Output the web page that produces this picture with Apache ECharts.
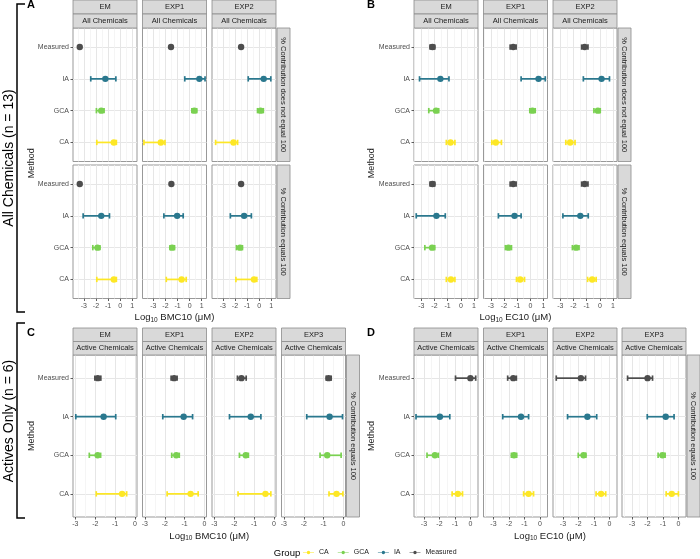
<!DOCTYPE html>
<html>
<head>
<meta charset="utf-8">
<script src="https://cdn.jsdelivr.net/npm/echarts@6/dist/echarts.min.js"></script>
<style>
  html, body { margin: 0; padding: 0; background: #fff; }
  #chart-wrapper { width: 700px; height: 559px; }
</style>
</head>
<body>
<div id="chart-wrapper"></div>
<script>
// methods, bottom to top
const methods = ["CA", "GCA", "IA", "Measured"];
const groupColors = ["#FDE725", "#7AD151", "#2A788E", "#4D4D4D"];
const facetNames = ["EM", "EXP1", "EXP2", "EXP3"];

// each facet: [lo, estimate, hi] for CA, GCA, IA, Measured
// A: BMC10, all chemicals, % contribution does not equal 100
const bmcAllNot = [
  [[-1.93, -0.52, -0.31], [-1.96, -1.56, -1.33], [-2.43, -1.22, -0.35], [-3.34, -3.34, -3.34]],
  [[-3.78, -2.38, -2.04], [0.19, 0.39, 0.59], [-0.4, 0.81, 1.28], [-1.54, -1.54, -1.54]],
  [[-3.6, -2.12, -1.78], [-0.13, 0.12, 0.35], [-0.9, 0.38, 0.97], [-1.49, -1.49, -1.49]],
];
// A: BMC10, all chemicals, % contribution equals 100
const bmcAllEq = [
  [[-1.93, -0.52, -0.31], [-2.26, -1.87, -1.67], [-3.06, -1.56, -0.88], [-3.34, -3.34, -3.34]],
  [[-1.93, -0.66, -0.28], [-1.62, -1.45, -1.25], [-2.13, -1.03, -0.53], [-1.51, -1.51, -1.51]],
  [[-1.92, -0.42, -0.19], [-1.87, -1.58, -1.38], [-2.38, -1.24, -0.64], [-1.49, -1.49, -1.49]],
];
// B: EC10, all chemicals
const ecAllNot = [
  [[-1.1, -0.78, -0.45], [-2.43, -1.88, -1.68], [-3.13, -1.55, -0.9], [-2.33, -2.15, -1.98]],
  [[-2.92, -2.62, -2.19], [-0.04, 0.16, 0.37], [-0.7, 0.62, 1.13], [-1.53, -1.3, -1.08]],
  [[-2.58, -2.25, -1.88], [-0.45, -0.15, 0.03], [-1.25, 0.13, 0.73], [-1.38, -1.15, -0.9]],
];
const ecAllEq = [
  [[-1.1, -0.75, -0.45], [-2.73, -2.18, -1.98], [-3.38, -1.85, -1.18], [-2.33, -2.15, -1.98]],
  [[-1.05, -0.77, -0.44], [-1.89, -1.66, -1.43], [-2.42, -1.2, -0.7], [-1.53, -1.3, -1.08]],
  [[-0.93, -0.58, -0.28], [-2.08, -1.8, -1.58], [-2.8, -1.48, -0.88], [-1.38, -1.15, -0.9]],
];
// C: BMC10, active chemicals
const bmcActive = [
  [[-1.95, -0.65, -0.42], [-2.3, -1.88, -1.73], [-2.98, -1.58, -0.97], [-2.02, -1.87, -1.72]],
  [[-1.88, -0.7, -0.32], [-1.65, -1.42, -1.27], [-2.1, -1.05, -0.6], [-1.68, -1.53, -1.38]],
  [[-1.81, -0.43, -0.16], [-1.74, -1.42, -1.29], [-2.24, -1.17, -0.66], [-1.84, -1.64, -1.4]],
  [[-0.73, -0.35, -0.03], [-1.18, -0.82, -0.12], [-1.85, -0.7, -0.05], [-0.87, -0.75, -0.62]],
];
// D: EC10, active chemicals
const ecActive = [
  [[-1.18, -0.81, -0.51], [-2.8, -2.29, -2.07], [-3.51, -1.97, -1.33], [-0.96, 0, 0.34]],
  [[-1.05, -0.73, -0.41], [-1.84, -1.67, -1.5], [-2.4, -1.22, -0.73], [-2.08, -1.72, -1.52]],
  [[-0.86, -0.54, -0.24], [-2.01, -1.67, -1.52], [-2.7, -1.42, -0.82], [-3.43, -1.84, -1.54]],
  [[-0.79, -0.43, 0.0], [-1.31, -1.03, -0.86], [-2.01, -0.82, -0.28], [-3.28, -1.99, -1.67]],
];
const ticksA = [-3, -2, -1, 0, 1];
const ticksC = [-3, -2, -1, 0];

const rowNot = "% Contribution does not equal 100";
const rowEq = "% Contribution equals 100";
const FONT = "Liberation Sans, Arial, sans-serif";

const panels = [
  { letter: "A", rows: [bmcAllNot, bmcAllEq], rowNames: [rowNot, rowEq], strip2: "All Chemicals",
    lefts: [73, 142.5, 212], w: 64, tops: [28, 165], h: 133.5, stripTop: 0,
    xMin: -3.9, xMax: 1.4, split: 5, ticks: ticksA, measure: "BMC10" },
  { letter: "B", rows: [ecAllNot, ecAllEq], rowNames: [rowNot, rowEq], strip2: "All Chemicals",
    lefts: [414, 483.5, 553], w: 64, tops: [28, 165], h: 133.5, stripTop: 0,
    xMin: -3.55, xMax: 1.3, split: 5, ticks: ticksA, measure: "EC10" },
  { letter: "C", rows: [bmcActive], rowNames: [rowEq], strip2: "Active Chemicals",
    lefts: [73, 142.5, 212, 281.5], w: 64, tops: [355], h: 162, stripTop: 328,
    xMin: -3.12, xMax: 0.1, split: 3, ticks: ticksC, measure: "BMC10" },
  { letter: "D", rows: [ecActive], rowNames: [rowEq], strip2: "Active Chemicals",
    lefts: [414, 483.5, 553, 622], w: 64, tops: [355], h: 162, stripTop: 328,
    xMin: -3.64, xMax: 0.49, split: 4, ticks: ticksC, measure: "EC10" },
];

function renderErrorBar(params, api) {
  const y = api.value(3);
  const a = api.coord([api.value(0), y]);
  const m = api.coord([api.value(1), y]);
  const b = api.coord([api.value(2), y]);
  const c = api.visual("color");
  const cap = 2.7;
  const kids = [];
  if (b[0] - a[0] > 0.5) {
    const ls = { stroke: c, lineWidth: 1.7 };
    kids.push({ type: "line", shape: { x1: a[0], y1: a[1], x2: b[0], y2: b[1] }, style: ls });
    kids.push({ type: "line", shape: { x1: a[0], y1: a[1] - cap, x2: a[0], y2: a[1] + cap }, style: ls });
    kids.push({ type: "line", shape: { x1: b[0], y1: b[1] - cap, x2: b[0], y2: b[1] + cap }, style: ls });
  }
  kids.push({ type: "circle", shape: { cx: m[0], cy: m[1], r: 3.2 }, style: { fill: c } });
  return { type: "group", children: kids };
}

const grids = [], xAxes = [], yAxes = [], series = [], graphics = [];
let gi = 0;

function stripBox(x, y, w, h, text, vertical) {
  graphics.push({
    type: "rect", shape: { x: x, y: y, width: w, height: h },
    style: { fill: "#D9D9D9", stroke: "#8C8C8C", lineWidth: 0.8 }, z: 10,
  });
  graphics.push({
    type: "text", x: x + w / 2, y: y + h / 2, rotation: vertical ? -Math.PI / 2 : 0,
    style: { text: text, fontSize: 7.5, fontFamily: FONT, fill: "#1A1A1A", align: "center", verticalAlign: "middle" },
    z: 11,
  });
}

function plainText(x, y, text, size, opts) {
  graphics.push(Object.assign({
    type: "text", x: x, y: y,
    style: Object.assign({ text: text, fontSize: size, fontFamily: FONT, fill: "#1A1A1A", align: "center", verticalAlign: "middle" }, (opts && opts.style) || {}),
    z: 12,
  }, (opts && opts.el) || {}));
}

panels.forEach((p) => {
  const nFacets = p.lefts.length;
  const right = p.lefts[nFacets - 1] + p.w;
  p.rows.forEach((rowData, r) => {
    const bottom = r === p.rows.length - 1;
    rowData.forEach((facet, f) => {
      grids.push({
        left: p.lefts[f], top: p.tops[r], width: p.w, height: p.h,
        show: true, backgroundColor: "#fff", borderColor: "#999", borderWidth: 1,
        containLabel: false, outerBoundsMode: "none",
      });
      xAxes.push({
        type: "value", gridIndex: gi, min: p.xMin, max: p.xMax, splitNumber: p.split, position: "bottom",
        axisLine: { show: false, onZero: false },
        axisTick: { show: bottom, customValues: p.ticks, length: 2.5, lineStyle: { color: "#333", width: 0.8 } },
        axisLabel: { show: bottom, customValues: p.ticks, fontSize: 7, fontFamily: FONT, color: "#4D4D4D", margin: 4 },
        splitLine: { show: true, lineStyle: { color: "#E6E6E6", width: 1 } },
        minorTick: { show: false, splitNumber: 2 },
        minorSplitLine: { show: true, lineStyle: { color: "#F3F3F3", width: 0.8 } },
      });
      yAxes.push({
        type: "value", gridIndex: gi, min: 0.4, max: 4.6, position: "left",
        axisLine: { show: false, onZero: false },
        axisTick: { show: f === 0, customValues: [1, 2, 3, 4], length: 2.5, lineStyle: { color: "#333", width: 0.8 } },
        axisLabel: {
          show: f === 0, customValues: [1, 2, 3, 4], fontSize: 7, fontFamily: FONT, color: "#4D4D4D", margin: 4,
          formatter: (v) => methods[Math.round(v) - 1],
        },
        splitLine: { show: true, lineStyle: { color: "#E6E6E6", width: 1 } },
      });
      methods.forEach((m, k) => {
        series.push({
          type: "custom", name: m, xAxisIndex: gi, yAxisIndex: gi,
          itemStyle: { color: groupColors[k] },
          renderItem: renderErrorBar,
          encode: { x: [0, 1, 2], y: 3 },
          data: [[facet[k][0], facet[k][1], facet[k][2], k + 1]],
          silent: true,
        });
      });
      gi++;
    });
    // right strip
    stripBox(right + 1, p.tops[r], 13, p.h, p.rowNames[r], true);
  });
  // top strips
  const sh = (p.tops[0] - p.stripTop) / 2;
  p.lefts.forEach((l, f) => {
    stripBox(l, p.stripTop, p.w, sh, facetNames[f], false);
    stripBox(l, p.stripTop + sh, p.w, sh, p.strip2, false);
  });
  // panel letter
  const lx = p.lefts[0] < 200 ? 31 : 371;
  plainText(lx, p.stripTop + 5, p.letter, 11, { style: { fontWeight: "bold", fill: "#000" } });
  // y title
  const lastTop = p.tops[p.tops.length - 1];
  plainText(lx + 1, (p.tops[0] + lastTop + p.h) / 2, "Method", 9, { el: { rotation: Math.PI / 2 } });
  // x title
  plainText((p.lefts[0] + right) / 2, lastTop + p.h + 19, "", 9.5, {
    style: {
      text: "{a|Log}{s|10}{a| " + p.measure + " (\u03bcM)}",
      rich: {
        a: { fontSize: 9.5, fontFamily: FONT, fill: "#1A1A1A" },
        s: { fontSize: 6.5, fontFamily: FONT, fill: "#1A1A1A", padding: [5, 0, 0, 0] },
      },
    },
  });
});

// brackets and side labels
graphics.push({
  type: "polyline", shape: { points: [[25, 4], [17, 4], [17, 312], [25, 312]] },
  style: { stroke: "#000", lineWidth: 1.5, fill: null }, z: 12,
});
graphics.push({
  type: "polyline", shape: { points: [[25, 323], [17, 323], [17, 518], [25, 518]] },
  style: { stroke: "#000", lineWidth: 1.5, fill: null }, z: 12,
});
plainText(9, 158, "All Chemicals (n = 13)", 14, { el: { rotation: Math.PI / 2 }, style: { fill: "#000" } });
plainText(9, 421, "Actives Only (n = 6)", 14, { el: { rotation: Math.PI / 2 }, style: { fill: "#000" } });
plainText(287, 553, "Group", 9.5, { style: { fill: "#000" } });

const legendIcon = "path://M0,4.3h22v1.4h-22z M11,1.6a3.4,3.4 0 1,1 -0.01,0z";

const option = {
  animation: false,
  backgroundColor: "#fff",
  grid: grids,
  xAxis: xAxes,
  yAxis: yAxes,
  series: series,
  graphic: graphics,
  legend: {
    data: methods,
    left: 303, top: 549, padding: 0,
    icon: legendIcon,
    itemWidth: 11, itemHeight: 7, itemGap: 9,
    textStyle: { fontSize: 7, fontFamily: FONT, color: "#1A1A1A" },
    selectedMode: false,
  },
};

const chart = echarts.init(document.getElementById("chart-wrapper"), null, { renderer: "canvas" });
chart.setOption(option);
</script>
</body>
</html>
